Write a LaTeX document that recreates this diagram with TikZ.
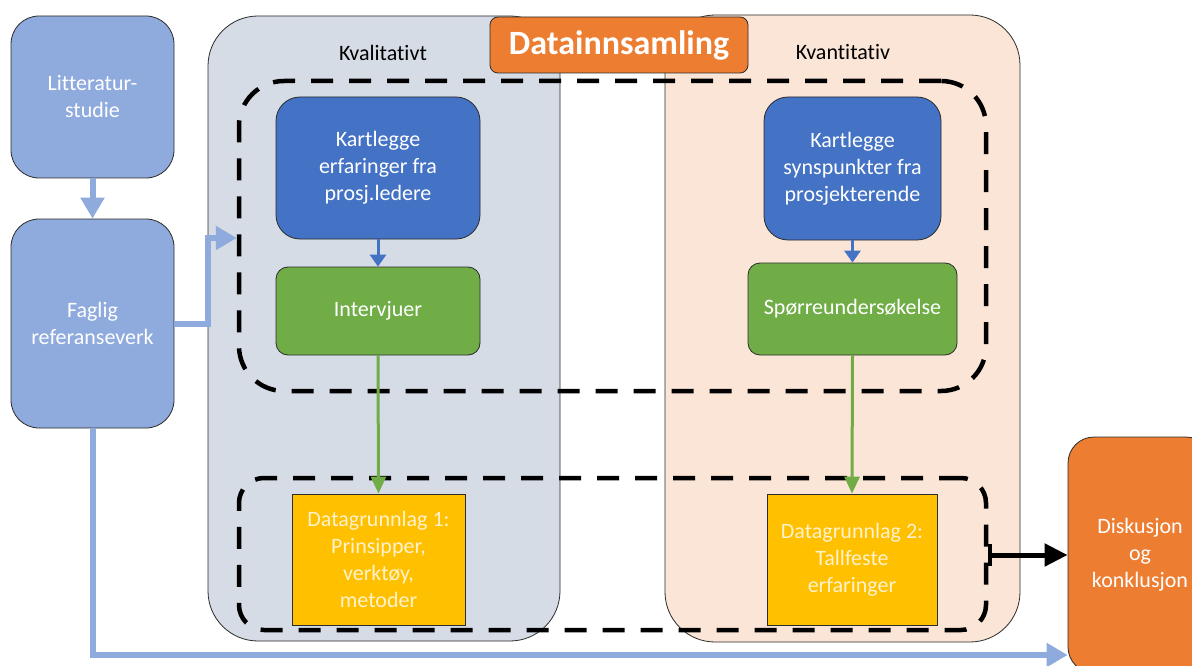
\documentclass[tikz,border=0pt]{standalone}
\usepackage{fontspec}
\setmainfont{Carlito}[Ligatures=NoCommon]
\usetikzlibrary{arrows.meta}
\definecolor{paleblue}{HTML}{8FAADC}
\definecolor{midblue}{HTML}{4472C4}
\definecolor{leaf}{HTML}{70AD47}
\definecolor{amber}{HTML}{FFC000}
\definecolor{tangerine}{HTML}{ED7D31}
\definecolor{slategrey}{HTML}{D6DCE5}
\definecolor{peach}{HTML}{FBE5D6}
\definecolor{edge}{HTML}{2B2B2B}
\definecolor{paletext}{HTML}{FFF2CC}
\begin{document}
\begin{tikzpicture}[x=1pt,y=-1pt,
  box/.style={draw=edge, line width=0.8pt, align=center, text=white,
    font=\fontsize{22}{27}\selectfont, inner sep=0pt},
  panel/.style={draw=edge, line width=0.8pt, rounded corners=50pt, inner sep=0pt},
  dashbox/.style={draw=black, line width=4.5pt, dash pattern=on 22pt off 16pt, inner sep=0pt},
  heading/.style={font=\fontsize{22}{27}\selectfont, text=black},
  thickflow/.style={draw=paleblue, line width=6pt, -{Triangle[length=21pt,width=23pt]}},
  greenflow/.style={draw=leaf, line width=3pt, -{Triangle[length=17pt,width=15pt]}},
  blueflow/.style={draw=midblue, line width=3pt, -{Triangle[length=12pt,width=16pt]}},
  blackflow/.style={draw=black, line width=5pt, {Bar[width=22pt,line width=4pt]}-{Triangle[length=23pt,width=22pt]}}
]
\useasboundingbox (0,0) rectangle (1192,666);
\clip (0,0) rectangle (1192,666);
\fill[white] (0,0) rectangle (1192,666);

% two background panels
\node[panel, fill=slategrey, minimum width=352pt, minimum height=625pt] (qual) at (384,328.5) {};
\node[panel, fill=peach, minimum width=355pt, minimum height=627pt] (quant) at (842.5,328.5) {};
\node[heading] (qualtitle) at (383,53) {Kvalitativt};
\node[heading] (quanttitle) at (843,52) {Kvantitativ};

% title tag
\node[box, fill=tangerine, rounded corners=8pt, minimum width=258pt, minimum height=56pt,
  font=\fontsize{34}{40}\selectfont\bfseries] (title) at (619,45) {Datainnsamling};

% left column
\node[box, fill=paleblue, rounded corners=28pt, minimum width=163pt, minimum height=162pt] (lit) at (92.5,97) {Litteratur-\\studie};
\node[box, fill=paleblue, rounded corners=28pt, minimum width=163pt, minimum height=209pt] (fag) at (92.5,323.5) {Faglig\\referanseverk};

% dashed groupings
\node[dashbox, rounded corners=45pt, minimum width=747pt, minimum height=310pt] (dup) at (612.5,236) {};
\node[dashbox, rounded corners=25pt, minimum width=747pt, minimum height=152pt] (dlow) at (612.5,554) {};

% qualitative track
\node[box, fill=midblue, rounded corners=24pt, minimum width=204pt, minimum height=142pt] (k1) at (378,168) {Kartlegge\\erfaringer fra\\prosj.ledere};
\node[box, fill=leaf, rounded corners=12pt, minimum width=204pt, minimum height=88pt] (i1) at (378,311) {Intervjuer};
\node[box, fill=amber, text=paletext, minimum width=173pt, minimum height=131pt] (d1) at (378.5,559.5) {Datagrunnlag 1:\\Prinsipper,\\verktøy,\\metoder};

% quantitative track
\node[box, fill=midblue, rounded corners=24pt, minimum width=177pt, minimum height=143pt] (k2) at (852.5,168.5) {Kartlegge\\synspunkter fra\\prosjekterende};
\node[box, fill=leaf, rounded corners=12pt, minimum width=209pt, minimum height=92pt] (s2) at (852.5,309) {Spørreundersøkelse};
\node[box, fill=amber, text=paletext, minimum width=170pt, minimum height=131pt] (d2) at (852,559.5) {Datagrunnlag 2:\\Tallfeste\\erfaringer};

% conclusion
\node[box, fill=tangerine, rounded corners=26pt, minimum width=144pt, minimum height=236pt] (disk) at (1140,555) {Diskusjon\\og\\konklusjon};

% connectors
\draw[thickflow] (lit.south) -- (fag.north);
\draw[thickflow] (fag.east) -| (208,238) -- (dup.west |- 0,238);
\draw[thickflow] (fag.south) |- (disk.west |- 0,655);
\draw[blueflow] (k1.south) -- (i1.north);
\draw[blueflow] (k2.south) -- (s2.north);
\draw[greenflow] (i1.south) -- (d1.north);
\draw[greenflow] (s2.south) -- (d2.north);
\draw[blackflow] (dlow.east |- disk.west) -- (disk.west);
\end{tikzpicture}
\end{document}
